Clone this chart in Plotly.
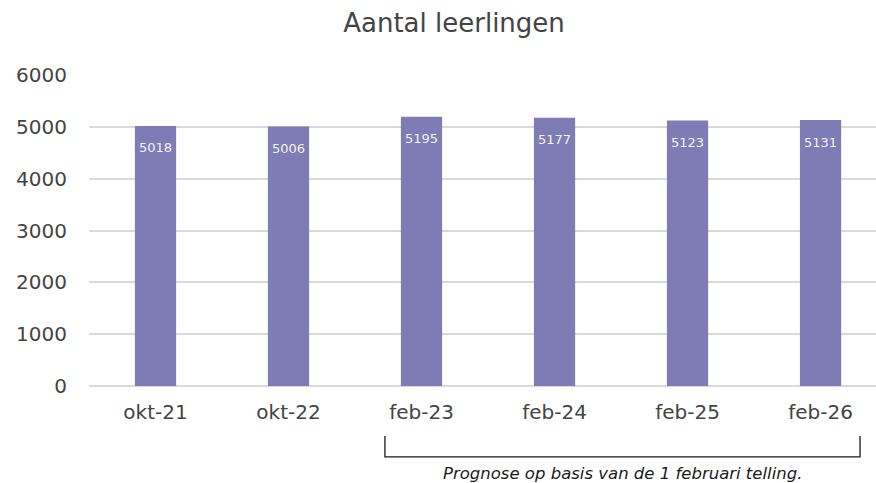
import plotly.graph_objects as go

# Student counts per reference date
periods = ["okt-21", "okt-22", "feb-23", "feb-24", "feb-25", "feb-26"]
students = [5018, 5006, 5195, 5177, 5123, 5131]
y_ticks = [0, 1000, 2000, 3000, 4000, 5000, 6000]

bar_color = "#7f7bb4"
text_color = "#444444"
grid_color = "#d9d9d9"
font_family = "DejaVu Sans, sans-serif"

fig = go.Figure(
    go.Bar(
        x=list(range(len(periods))),
        y=students,
        width=0.31,
        marker=dict(color=bar_color, line=dict(width=0)),
        hoverinfo="skip",
    )
)

# Value labels just inside the top of each bar
for i, v in enumerate(students):
    fig.add_annotation(
        x=i, y=v, text=str(v), showarrow=False,
        yanchor="middle", yshift=-22,
        font=dict(family=font_family, size=13, color="#f2f2f2"),
    )

# Bracket under the forecast years
fig.add_shape(
    type="path", xref="x", yref="paper",
    path="M 1.725,-0.161 L 1.725,-0.228 L 5.297,-0.228 L 5.297,-0.161",
    line=dict(color="#1a1a1a", width=1.3),
)
fig.add_annotation(
    x=(1.725 + 5.297) / 2, y=-0.28, xref="x", yref="paper",
    text="Prognose op basis van de 1 februari telling.", showarrow=False,
    yanchor="middle",
    font=dict(family=font_family, size=16.5, color="#1a1a1a", style="italic"),
)

fig.update_layout(
    width=876, height=483,
    margin=dict(l=89, r=0, t=75, b=97),
    paper_bgcolor="white", plot_bgcolor="white",
    showlegend=False,
    title=dict(
        text="Aantal leerlingen", x=454 / 876, xanchor="center",
        y=1 - 23 / 483, yanchor="middle", yref="container",
        font=dict(family=font_family, size=26, color=text_color),
    ),
    xaxis=dict(
        tickmode="array", tickvals=list(range(len(periods))), ticktext=periods,
        range=[-0.5, 5.417], showgrid=False, zeroline=False, showline=False,
        ticks="", tickfont=dict(family=font_family, size=20, color=text_color),
        ticklabelstandoff=12,
    ),
    yaxis=dict(
        range=[0, 6000], tickvals=y_ticks, showgrid=True,
        gridcolor=grid_color, gridwidth=1.5, zeroline=True,
        zerolinecolor=grid_color, zerolinewidth=1.5, showline=False, ticks="",
        tickfont=dict(family=font_family, size=20, color=text_color),
        ticklabelstandoff=21,
    ),
)

fig.write_html("out.html")
